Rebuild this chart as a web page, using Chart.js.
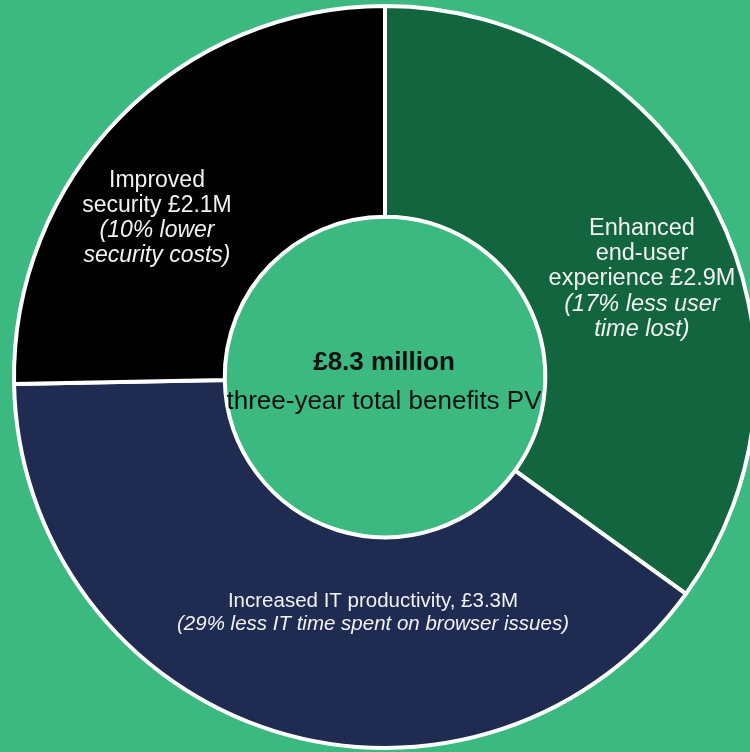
<!DOCTYPE html>
<html>
<head>
<meta charset="utf-8">
<script src="https://cdn.jsdelivr.net/npm/chart.js@4.4.0/dist/chart.umd.min.js"></script>
<style>
  html, body { margin: 0; padding: 0; background: #3cb881; }
  canvas { display: block; }
</style>
</head>
<body>
<canvas id="benefitsChart" width="750" height="752"></canvas>
<script>
// Three-year benefits (PV), £ millions
const categories = ["Enhanced end-user experience", "Increased IT productivity", "Improved security"];
const benefitValues = [2.9, 3.3, 2.1];
const segmentColors = ["#12653f", "#1f2b51", "#000000"];

// Text shown inside each slice (first lines normal, remaining lines italic)
const sliceLabels = [
    { lines: ["Enhanced", "end-user", "experience £2.9M"], italic: ["(17% less user", "time lost)"] },
    { lines: ["Increased IT productivity, £3.3M"], italic: ["(29% less IT time spent on browser issues)"] },
    { lines: ["Improved", "security £2.1M"], italic: ["(10% lower", "security costs)"] }
];
const centerTitle = "£8.3 million";
const centerSubtitle = "three-year total benefits PV";

// label placement relative to chart centre
const labelLayout = [
    { dx: 257, dy: -148, size: 23.5, lineHeight: 25 },
    { dx: -12, dy: 224, size: 20.5, lineHeight: 23 },
    { dx: -228, dy: -196, size: 23, lineHeight: 25 }
];

const sliceLabelPlugin = {
    id: "sliceLabels",
    afterDraw(chart) {
        const ctx = chart.ctx;
        const arc = chart.getDatasetMeta(0).data[0];
        const cx = arc.x, cy = arc.y;
        ctx.save();
        ctx.textAlign = "center";
        ctx.textBaseline = "middle";
        ctx.fillStyle = "#f2f2f2";
        sliceLabels.forEach((lbl, i) => {
            const lay = labelLayout[i];
            let y = cy + lay.dy;
            lbl.lines.forEach(line => {
                ctx.font = `${lay.size}px "Liberation Sans", Arial, sans-serif`;
                ctx.fillText(line, cx + lay.dx, y);
                y += lay.lineHeight;
            });
            lbl.italic.forEach(line => {
                ctx.font = `italic ${lay.size}px "Liberation Sans", Arial, sans-serif`;
                ctx.fillText(line, cx + lay.dx, y);
                y += lay.lineHeight;
            });
        });

        // Centre text
        ctx.fillStyle = "#111111";
        ctx.font = `bold 26px "Liberation Sans", Arial, sans-serif`;
        ctx.fillText(centerTitle, cx - 1, cy - 14);
        ctx.font = `26px "Liberation Sans", Arial, sans-serif`;
        ctx.fillText(centerSubtitle, cx - 1, cy + 25);
        ctx.restore();
    }
};

new Chart(document.getElementById("benefitsChart"), {
    type: "doughnut",
    data: {
        labels: categories,
        datasets: [{
            data: benefitValues,
            backgroundColor: segmentColors,
            borderColor: "#ffffff",
            borderWidth: 4,
            hoverBorderWidth: 4
        }]
    },
    options: {
        responsive: false,
        animation: false,
        radius: 371,
        cutout: "43.2%",
        layout: { padding: { left: 20, top: 2 } },
        plugins: {
            legend: { display: false },
            tooltip: { enabled: false }
        }
    },
    plugins: [sliceLabelPlugin]
});
</script>
</body>
</html>
